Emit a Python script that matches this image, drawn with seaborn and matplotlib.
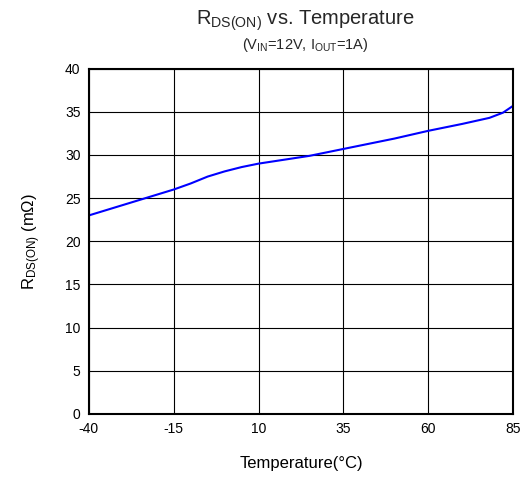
import matplotlib
matplotlib.use("Agg")
import matplotlib.pyplot as plt
import seaborn as sns
import pandas as pd

temps = [-40, -30, -20, -15, -10, -5, 0, 5, 10, 20, 25, 35, 50, 60, 70, 78, 82, 85]
rdson = [23.0, 24.2, 25.4, 26.0, 26.7, 27.5, 28.1, 28.6, 29.0, 29.6, 29.9, 30.7, 31.9, 32.8, 33.6, 34.3, 34.9, 35.7]
xticks = [-40, -15, 10, 35, 60, 85]
yticks = [0, 5, 10, 15, 20, 25, 30, 35, 40]

sns.set_theme(style="white")
plt.rcParams['font.family'] = ['Liberation Sans', 'DejaVu Sans']
plt.rcParams['mathtext.default'] = 'regular'

df = pd.DataFrame({"T": temps, "R": rdson})
fig = plt.figure(figsize=(5.29, 4.87), dpi=100)
ax = fig.add_axes([0.168, 0.150, 0.802, 0.709])
sns.lineplot(data=df, x="T", y="R", ax=ax, color="#0000ff", linewidth=1.5)
ax.set_xlim(-40, 85)
ax.set_ylim(0, 40)
ax.set_xticks(xticks)
ax.set_yticks(yticks)
ax.set_xticklabels([str(v) for v in xticks], fontsize=10)
ax.set_yticklabels([str(v) for v in yticks], fontsize=10)
ax.tick_params(length=0, pad=6, colors="black")
ax.grid(True, color="black", linewidth=0.8)
for s in ax.spines.values():
    s.set_color("black")
    s.set_linewidth(1.5)
ax.set_xlabel("Temperature(°C)", fontsize=12, labelpad=14, color="black")
ax.set_ylabel(r"R$_{DS(ON)}$ (m$\Omega$)", fontsize=12, labelpad=16, color="black")
fig.text(0.577, 0.957, r"R$_{DS(ON)}$ vs. Temperature", ha="center", va="center", fontsize=14.5)
fig.text(0.577, 0.908, r"(V$_{IN}$=12V, I$_{OUT}$=1A)", ha="center", va="center", fontsize=10.5)
fig.savefig("out.png", dpi=100)
